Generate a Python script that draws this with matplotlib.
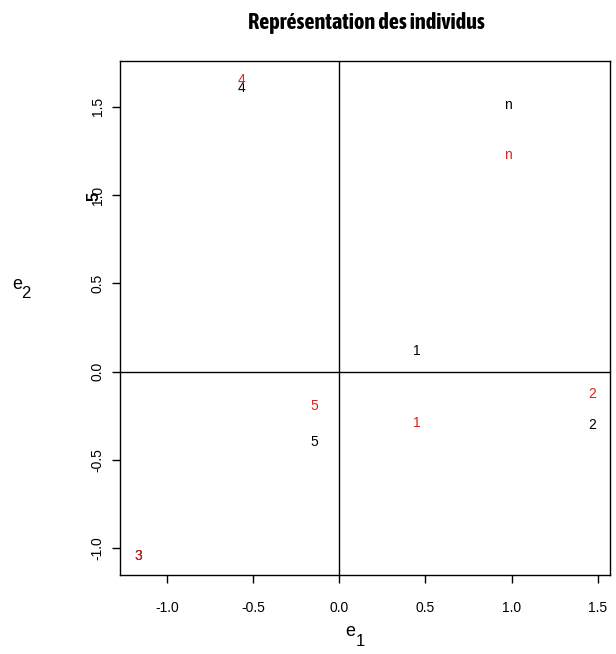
import matplotlib
matplotlib.use("Agg")
import matplotlib.pyplot as plt
from matplotlib import font_manager
from matplotlib.font_manager import FontProperties

plt.rcParams['font.family'] = ['Liberation Sans', 'DejaVu Sans']

# titre en police étroite et grasse (Arial Narrow Bold dans R) si on en trouve une
grasses = []
for f in font_manager.fontManager.ttflist:
    texte = (f.name + ' ' + f.fname).lower()
    if ('narrow' in texte or 'condensed' in texte) and f.weight in (600, 700, 'bold', 'semibold') \
            and f.style == 'normal' and 'dejavu' not in texte:
        grasses.append(f)
grasses.sort(key=lambda f: abs((f.weight if isinstance(f.weight, int) else 700) - 700))
if grasses:
    prop_titre = FontProperties(fname=grasses[0].fname, size=16)
else:
    prop_titre = FontProperties(family='Liberation Sans', weight='bold', size=12.3)

# individus, deux projections (noir / rouge)
etiquettes = ['1', '2', '3', '4', '5', 'n']
x_noir = [0.45, 1.466, -1.168, -0.567, -0.146, 0.981]
y_noir = [0.118, -0.303, -1.045, 1.607, -0.399, 1.511]
x_rouge = [0.45, 1.466, -1.168, -0.567, -0.146, 0.981]
y_rouge = [-0.292, -0.129, -1.045, 1.652, -0.197, 1.230]

xticks = [-1.0, -0.5, 0.0, 0.5, 1.0, 1.5]
yticks = [-1.0, -0.5, 0.0, 0.5, 1.0, 1.5]

W, H = 616, 654
fig = plt.figure(figsize=(W / 100, H / 100), dpi=100)
ax = fig.add_axes([120 / W, 1 - 575 / H, 490 / W, 514 / H])

for i in range(len(etiquettes)):
    ax.text(x_noir[i], y_noir[i], etiquettes[i], color='black', fontsize=10,
            ha='center', va='center')
for i in range(len(etiquettes)):
    ax.text(x_rouge[i], y_rouge[i], etiquettes[i], color='#e0201b', fontsize=10,
            ha='center', va='center')

ax.axhline(0, color='black', lw=1)
ax.axvline(0, color='black', lw=1)

# marges comme R (4 %)
xmin, xmax = min(x_noir), max(x_noir)
ymin, ymax = min(y_noir + y_rouge), max(y_noir + y_rouge)
dx = 0.04 * (xmax - xmin)
dy = 0.04 * (ymax - ymin)
ax.set_xlim(xmin - dx, xmax + dx)
ax.set_ylim(ymin - dy, ymax + dy)

ax.set_xticks(xticks)
ax.set_yticks(yticks)
ax.set_xticklabels(['%.1f' % v for v in xticks], fontsize=10)
ax.set_yticklabels(['%.1f' % v for v in yticks], fontsize=10, rotation=90, va='center')
ax.tick_params(direction='out', length=6, width=1)
ax.tick_params(axis='x', pad=13)
ax.tick_params(axis='y', pad=5)
for s in ax.spines.values():
    s.set_linewidth(1)

# le "5" qui chevauche la graduation 1.0 dans l'original
ax.text(-0.053, 0.993, '5', transform=ax.get_yaxis_transform(), rotation=90,
        fontsize=12, fontweight='bold', ha='center', va='center', clip_on=False)

fig.text(366 / W, 1 - 29.5 / H, 'Représentation des individus', fontproperties=prop_titre,
         ha='center', va='baseline')

# e1 et e2 (e petit, indice plus grand, comme dans R)
fig.text(350 / W, 1 - 632 / H, 'e', fontsize=13, ha='center', va='center')
fig.text(360 / W, 1 - 642 / H, '1', fontsize=12, ha='center', va='center')
fig.text(17 / W, 1 - 285 / H, 'e', fontsize=13, ha='center', va='center')
fig.text(26 / W, 1 - 294 / H, '2', fontsize=12, ha='center', va='center')

fig.savefig('out.png', dpi=100)
